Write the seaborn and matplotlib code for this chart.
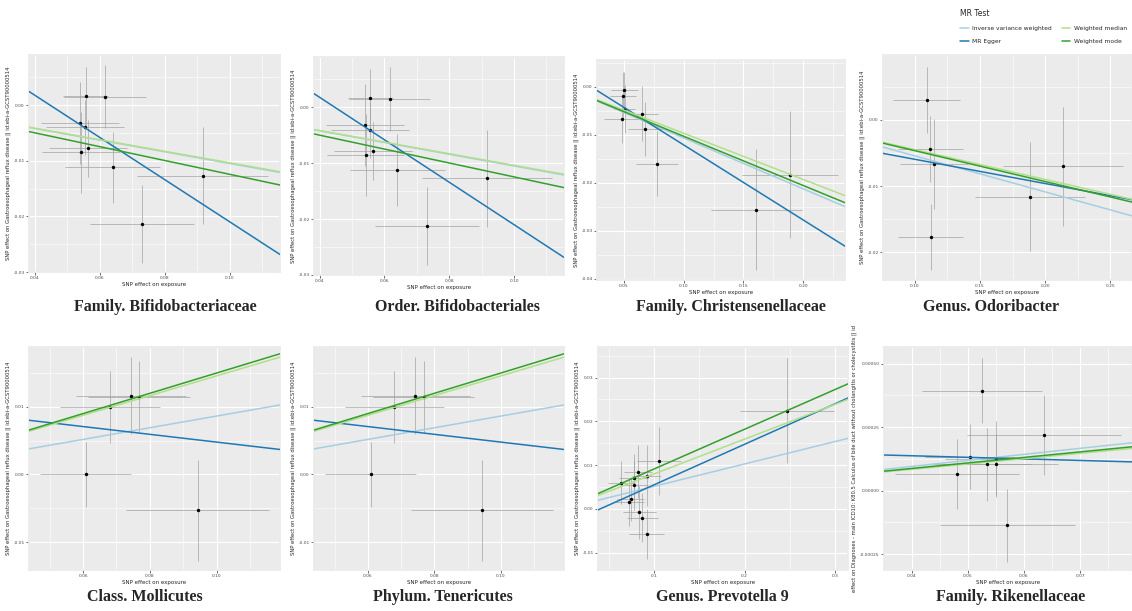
import matplotlib
matplotlib.use("Agg")
import matplotlib.pyplot as plt
import seaborn as sns

# MR methods and colours (ggplot Paired palette)
methods = ["Inverse variance weighted", "MR Egger", "Weighted median", "Weighted mode"]
method_colors = ["#a6cee3", "#1f78b4", "#b2df8a", "#33a02c"]

# Bifidobacteriaceae / Bifidobacteriales (same SNPs)
bifido_x = [0.0557, 0.0616, 0.0540, 0.0555, 0.0565, 0.0542, 0.0640, 0.0916, 0.0731]
bifido_y = [0.0016, 0.0015, -0.0032, -0.0040, -0.0078, -0.0085, -0.0112, -0.0127, -0.0213]
bifido_xerr = [0.007, 0.0126, 0.012, 0.012, 0.012, 0.012, 0.0146, 0.020, 0.016]
bifido_yerr = [0.0053, 0.0057, 0.0073, 0.0050, 0.0052, 0.0073, 0.0064, 0.0087, 0.0070]
bifido_slope = [-0.105, -0.38, -0.1038, -0.1245]
bifido_icpt = [0.0, 0.0170, 0.0, 0.0]

# Christensenellaceae
christ_x = [0.0506, 0.0494, 0.0508, 0.0489, 0.0656, 0.0680, 0.0780, 0.1606, 0.1889]
christ_y = [-0.0007, -0.0019, -0.0047, -0.0068, -0.0056, -0.0088, -0.0160, -0.0256, -0.0183]
christ_xerr = [0.011, 0.011, 0.009, 0.015, 0.013, 0.0146, 0.0174, 0.038, 0.040]
christ_yerr = [0.0038, 0.005, 0.005, 0.005, 0.0057, 0.0057, 0.0068, 0.0127, 0.0132]
christ_slope = [-0.1065, -0.157, -0.0967, -0.103]
christ_icpt = [0.0, 0.0036, 0.0, 0.0]

# Odoribacter
odori_x = [0.109, 0.112, 0.1146, 0.1123, 0.1885, 0.2138]
odori_y = [0.0030, -0.0044, -0.0067, -0.0177, -0.0116, -0.0070]
odori_xerr = [0.026, 0.025, 0.026, 0.025, 0.042, 0.046]
odori_yerr = [0.005, 0.005, 0.0068, 0.005, 0.0082, 0.009]
odori_slope = [-0.0544, -0.0366, -0.045, -0.0466]
odori_icpt = [0.0, -0.0023, 0.0, 0.0]

# Mollicutes / Tenericutes (same SNPs)
molli_x = [0.068, 0.0743, 0.0768, 0.0608, 0.0944]
molli_y = [0.0100, 0.0116, 0.0114, 0.0000, -0.0053]
molli_xerr = [0.015, 0.0165, 0.0152, 0.0137, 0.0214]
molli_yerr = [0.0053, 0.0057, 0.0053, 0.0048, 0.0075]
molli_slope = [0.0861, -0.0573, 0.1454, 0.1496]
molli_icpt = [0.0, 0.0105, 0.0, 0.0]

# Prevotella 9
prev_x = [0.064, 0.0776, 0.0824, 0.0919, 0.1055, 0.0780, 0.0724, 0.0743, 0.0838, 0.0871, 0.0919, 0.2470]
prev_y = [0.0060, 0.0071, 0.0085, 0.0076, 0.0109, 0.0055, 0.0015, 0.0023, -0.0008, -0.0020, -0.0057, 0.0224]
prev_xerr = [0.015, 0.016, 0.015, 0.016, 0.024, 0.015, 0.016, 0.015, 0.018, 0.017, 0.019, 0.052]
prev_yerr = [0.005, 0.0055, 0.006, 0.007, 0.0078, 0.0057, 0.0055, 0.005, 0.006, 0.0055, 0.0057, 0.012]
prev_slope = [0.0513, 0.0928, 0.0797, 0.091]
prev_icpt = [0.0, -0.0038, 0.0, 0.0]

# Rikenellaceae
riken_x = [0.0525, 0.0636, 0.0504, 0.0535, 0.0550, 0.0550, 0.0481, 0.0570]
riken_y = [0.000393, 0.000219, 0.000134, 0.000103, 0.000126, 0.000103, 0.000066, -0.000136]
riken_xerr = [0.0107, 0.0137, 0.008, 0.008, 0.009, 0.011, 0.011, 0.012]
riken_yerr = [0.000128, 0.000157, 0.000128, 0.000144, 0.00015, 0.00012, 0.000138, 0.000144]
riken_slope = [0.00238, -0.000617, 0.0021, 0.00218]
riken_icpt = [0.0, 0.000162, 0.0, 0.0]

titles = ["Family. Bifidobacteriaceae", "Order. Bifidobacteriales",
          "Family. Christensenellaceae", "Genus. Odoribacter",
          "Class. Mollicutes", "Phylum. Tenericutes",
          "Genus. Prevotella 9", "Family. Rikenellaceae"]

gerd = "SNP effect on Gastroesophageal reflux disease || id:ebi-a-GCST90000514"
k80 = "effect on Diagnoses - main ICD10: K80.5 Calculus of bile duct without cholangitis or cholecystitis || id"

sns.set_theme(style="darkgrid", rc={"axes.facecolor": "#EBEBEB", "grid.color": "white",
                                    "axes.edgecolor": "#EBEBEB"})
plt.rcParams['font.family'] = ['DejaVu Sans']

W, H = 1132, 611
fig = plt.figure(figsize=(W / 100, H / 100), dpi=100)

# panel setup: data, axis box in pixels (x0, y0, x1, y1), limits, ticks
panels = [
    (bifido_x, bifido_y, bifido_xerr, bifido_yerr, bifido_slope, bifido_icpt,
     (29, 55, 280, 272), (0.0383, 0.1154), (-0.030, 0.009),
     [0.04, 0.06, 0.08, 0.10], [-0.03, -0.02, -0.01, 0.00], gerd, "%.2f", "%.2f"),
    (bifido_x, bifido_y, bifido_xerr, bifido_yerr, bifido_slope, bifido_icpt,
     (314, 57, 564, 275), (0.0383, 0.1154), (-0.030, 0.009),
     [0.04, 0.06, 0.08, 0.10], [-0.03, -0.02, -0.01, 0.00], gerd, "%.2f", "%.2f"),
    (christ_x, christ_y, christ_xerr, christ_yerr, christ_slope, christ_icpt,
     (597, 60, 845, 280), (0.0278, 0.2347), (-0.0403, 0.0056),
     [0.05, 0.10, 0.15, 0.20], [-0.04, -0.03, -0.02, -0.01, 0.00], gerd, "%.2f", "%.2f"),
    (odori_x, odori_y, odori_xerr, odori_yerr, odori_slope, odori_icpt,
     (883, 55, 1132, 280), (0.0756, 0.2667), (-0.0242, 0.0098),
     [0.10, 0.15, 0.20, 0.25], [-0.02, -0.01, 0.00], gerd, "%.2f", "%.2f"),
    (molli_x, molli_y, molli_xerr, molli_yerr, molli_slope, molli_icpt,
     (29, 347, 280, 570), (0.0438, 0.119), (-0.0141, 0.0188),
     [0.06, 0.08, 0.10], [-0.01, 0.00, 0.01], gerd, "%.2f", "%.2f"),
    (molli_x, molli_y, molli_xerr, molli_yerr, molli_slope, molli_icpt,
     (314, 347, 564, 570), (0.0438, 0.119), (-0.0141, 0.0188),
     [0.06, 0.08, 0.10], [-0.01, 0.00, 0.01], gerd, "%.2f", "%.2f"),
    (prev_x, prev_y, prev_xerr, prev_yerr, prev_slope, prev_icpt,
     (598, 347, 848, 570), (0.0382, 0.314), (-0.014, 0.037),
     [0.1, 0.2, 0.3], [-0.01, 0.00, 0.01, 0.02, 0.03], gerd, "%.1f", "%.2f"),
    (riken_x, riken_y, riken_xerr, riken_yerr, riken_slope, riken_icpt,
     (884, 347, 1132, 570), (0.0351, 0.0792), (-0.000313, 0.000566),
     [0.04, 0.05, 0.06, 0.07], [-0.00025, 0.0, 0.00025, 0.0005], k80, "%.2f", "%.5f"),
]

title_pos = [(165, 307), (457, 307), (731, 307), (991, 307),
             (145, 597), (443, 597), (722, 597), (1011, 597)]

handles = []
for i, (x, y, xe, ye, slopes, icpts, box, xl, yl, xt, yt, ylab, xfmt, yfmt) in enumerate(panels):
    x0, y0, x1, y1 = box
    ax = fig.add_axes([x0 / W, 1 - y1 / H, (x1 - x0) / W, (y1 - y0) / H])
    ax.errorbar(x, y, xerr=xe, yerr=ye, fmt="none", ecolor="#a0a0a0",
                elinewidth=0.6, alpha=0.8, zorder=2)
    sns.scatterplot(x=x, y=y, ax=ax, color="black", s=6, edgecolor=None,
                    linewidth=0, zorder=3)
    for m, c, s, b in zip(methods, method_colors, slopes, icpts):
        ln = ax.axline((0, b), slope=s, color=c, lw=1.1, label=m, zorder=4)
        if i == 0:
            handles.append(ln)
    ax.set_xticks(xt)
    ax.set_yticks(yt)
    ax.set_xticklabels([xfmt % v for v in xt])
    ax.set_yticklabels([yfmt % v for v in yt])
    # minor grid halfway between major ticks
    dx, dy = xt[1] - xt[0], yt[1] - yt[0]
    ax.set_xticks([v + dx / 2 for v in [xt[0] - dx] + xt], minor=True)
    ax.set_yticks([v + dy / 2 for v in [yt[0] - dy] + yt], minor=True)
    ax.set_xlim(*xl)
    ax.set_ylim(*yl)
    ax.grid(which="major", color="white", lw=0.8)
    ax.grid(which="minor", color="white", lw=0.4)
    ax.tick_params(which="major", labelsize=3.2, length=2, width=0.5, color="#333333",
                   labelcolor="#4d4d4d", pad=1, bottom=True, left=True)
    ax.tick_params(which="minor", length=0)
    ax.set_xlabel("SNP effect on exposure", fontsize=4, labelpad=1)
    ax.set_ylabel(ylab, fontsize=3.8, labelpad=2)
    fig.text(title_pos[i][0] / W, 1 - title_pos[i][1] / H, titles[i],
             family="Liberation Serif", weight="bold", fontsize=11.5,
             ha="center", va="center")

fig.legend(handles, methods, loc="upper left", bbox_to_anchor=(955 / W, 1 - 4 / H),
           ncol=2, fontsize=4.3, title="MR Test", title_fontsize=5.5, frameon=False,
           handlelength=1.4, handletextpad=0.6, columnspacing=1.6, labelspacing=1.3,
           alignment="left")

fig.savefig("out.png", dpi=100)
